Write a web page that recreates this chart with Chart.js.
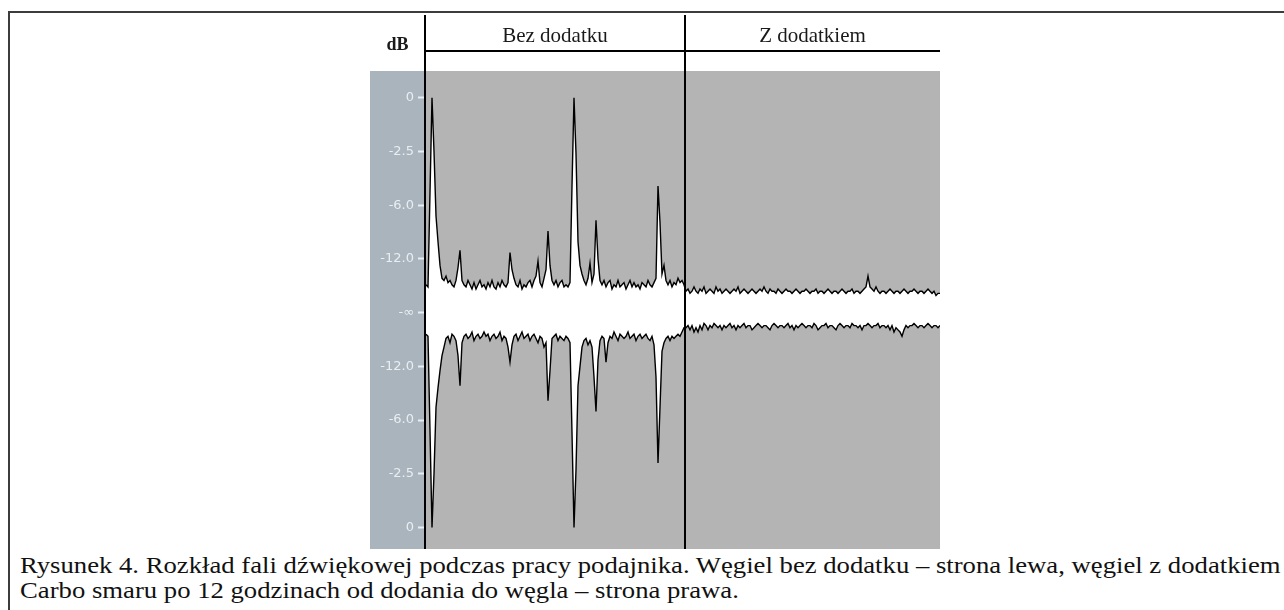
<!DOCTYPE html>
<html lang="pl">
<head>
<meta charset="utf-8">
<script src="https://cdn.jsdelivr.net/npm/chart.js@4"></script>
<style>
  html, body { margin: 0; padding: 0; background: #fff; width: 1284px; height: 610px; overflow: hidden; }
  #ramka { position: absolute; left: 8px; top: 11px; width: 1400px; height: 700px;
           border-top: 2px solid #3c3c3c; border-left: 2px solid #3c3c3c; }
  #wykres { position: absolute; left: 0; top: 0; }
  .podpis { position: absolute; left: 20px; font-family: "Liberation Serif", serif; white-space: nowrap;
            font-size: 26.7px; line-height: 30px; color: #111;
            transform: scaleY(0.85); transform-origin: 0 0; }
  #linia1 { top: 552.6px; }
  #linia2 { top: 577.6px; }
</style>
</head>
<body>
<div id="ramka"></div>
<canvas id="wykres" width="1284" height="550"></canvas>
<div class="podpis" id="linia1">Rysunek 4. Rozkład fali dźwiękowej podczas pracy podajnika. Węgiel bez dodatku – strona lewa, węgiel z dodatkiem</div>
<div class="podpis" id="linia2">Carbo smaru po 12 godzinach od dodania do węgla – strona prawa.</div>
<script>
// naglowki kolumn i os dB
const naglowki = ["Bez dodatku", "Z dodatkiem"];
const jednostka = "dB";
const pozycjeTickow = [-1, -0.75, -0.5, -0.25, 0, 0.25, 0.5, 0.75, 1];
const etykietyTickow = ["0", "-2.5", "-6.0", "-12.0", "-\u221e", "-12.0", "-6.0", "-2.5", "0"];

// obwiednia fali (amplituda w % pelnej skali) - wegiel bez dodatku
const gornaLewa = [
  13, 12, 56, 100, 75, 45, 33, 22, 16, 15,
  17, 14, 15, 13, 12, 15, 21, 29, 15, 13,
  12, 15, 13, 11, 14, 11, 13, 15, 12, 13,
  11, 14, 12, 15, 12, 11, 14, 12, 15, 13,
  12, 14, 28, 20, 16, 13, 12, 15, 11, 13,
  12, 14, 15, 12, 15, 17, 24, 14, 12, 16,
  20, 38, 22, 15, 13, 15, 12, 14, 15, 12,
  13, 12, 14, 59, 100, 74, 33, 22, 18, 15,
  13, 16, 23, 14, 18, 43, 25, 15, 13, 15,
  12, 14, 15, 11, 13, 12, 15, 12, 13, 14,
  11, 13, 15, 12, 14, 12, 13, 11, 14, 13,
  12, 15, 13, 12, 14, 16, 59, 42, 18, 22,
  15, 13, 15, 12, 14, 13, 16, 14, 15, 13
];
const dolnaLewa = [
  -10, -11, -55, -100, -75, -44, -35, -27, -20, -16,
  -12, -11, -14, -10, -11, -13, -20, -34, -14, -11,
  -10, -12, -11, -9, -13, -11, -10, -12, -11, -9,
  -11, -10, -13, -11, -10, -12, -11, -9, -13, -11,
  -12, -16, -23, -15, -11, -10, -13, -11, -9, -12,
  -11, -10, -13, -11, -10, -12, -14, -11, -12, -16,
  -14, -41, -27, -12, -11, -10, -13, -11, -12, -13,
  -11, -12, -14, -56, -100, -73, -34, -25, -16, -13,
  -12, -15, -13, -16, -30, -46, -22, -13, -11, -12,
  -23, -14, -11, -12, -9, -11, -13, -10, -11, -12,
  -11, -9, -12, -11, -10, -13, -11, -10, -12, -11,
  -10, -12, -13, -11, -15, -30, -70, -44, -18, -14,
  -12, -11, -13, -11, -12, -11, -10, -11, -9, -7
];

// wegiel z dodatkiem
const gornaPrawa = [
  10, 11, 9, 10, 12, 10, 9, 11, 10, 12,
  9, 10, 11, 10, 9, 12, 10, 11, 9, 10,
  11, 10, 9, 10, 11, 10, 12, 9, 10, 11,
  10, 9, 10, 11, 10, 9, 10, 11, 10, 12,
  10, 9, 11, 10, 10, 9, 11, 10, 9, 10,
  11, 10, 10, 9, 10, 11, 10, 9, 10, 10,
  11, 10, 9, 10, 10, 11, 9, 10, 10, 9,
  10, 11, 10, 9, 10, 10, 9, 10, 11, 10,
  9, 10, 10, 11, 9, 10, 10, 9, 10, 11,
  12, 17, 12, 11, 10, 12, 10, 9, 10, 10,
  9, 10, 11, 10, 9, 10, 10, 9, 10, 11,
  10, 9, 10, 10, 11, 10, 9, 10, 10, 9,
  10, 11, 10, 9, 10, 8, 9, 9
];
const dolnaPrawa = [
  -7, -6, -8, -6, -9, -7, -9, -6, -8, -5,
  -6, -8, -6, -7, -5, -6, -7, -6, -8, -6,
  -7, -6, -5, -7, -6, -8, -6, -7, -6, -5,
  -7, -6, -6, -8, -7, -6, -5, -6, -7, -6,
  -6, -7, -8, -6, -5, -6, -7, -6, -6, -7,
  -6, -5, -7, -6, -8, -6, -7, -6, -5, -6,
  -7, -6, -6, -7, -5, -6, -8, -7, -6, -6,
  -5, -7, -6, -6, -7, -8, -6, -5, -6, -7,
  -6, -6, -7, -5, -6, -6, -7, -6, -8, -6,
  -6, -5, -6, -7, -6, -6, -5, -7, -6, -6,
  -7, -6, -8, -6, -9, -7, -8, -9, -11, -8,
  -6, -7, -6, -6, -5, -6, -7, -6, -6, -7,
  -6, -5, -6, -7, -6, -6, -7, -6
];

const gora = gornaLewa.concat(gornaPrawa).map((v, i) => ({ x: i, y: v / 100 }));
const dol = dolnaLewa.concat(dolnaPrawa).map((v, i) => ({ x: i, y: v / 100 }));

// tlo, linie podzialu i naglowki
const tlo = {
  id: "tlo",
  beforeDraw(chart) {
    const { ctx, chartArea: a, scales: { y } } = chart;
    ctx.save();
    ctx.fillStyle = "#aab4bd";
    ctx.fillRect(y.left, a.top, a.left - y.left, a.bottom - a.top);
    ctx.fillStyle = "#b4b4b4";
    ctx.fillRect(a.left, a.top, a.right - a.left, a.bottom - a.top);
    ctx.restore();
  },
  afterDraw(chart) {
    const { ctx, chartArea: a, scales: { x, y } } = chart;
    const dzielnik = Math.round(x.getPixelForValue(gornaLewa.length - 0.5));
    ctx.save();
    ctx.strokeStyle = "#000";
    ctx.lineWidth = 2;
    ctx.beginPath();
    ctx.moveTo(a.left, 15); ctx.lineTo(a.left, a.bottom);
    ctx.moveTo(dzielnik, 15); ctx.lineTo(dzielnik, a.bottom);
    ctx.moveTo(a.left, 51); ctx.lineTo(a.right, 51);
    ctx.stroke();

    ctx.fillStyle = "#1a1a1a";
    ctx.textAlign = "center";
    ctx.textBaseline = "alphabetic";
    ctx.font = '21px "Liberation Serif"';
    ctx.fillText(naglowki[0], (a.left + dzielnik) / 2, 42);
    ctx.fillText(naglowki[1], (dzielnik + a.right) / 2, 42);
    ctx.font = 'bold 18px "Liberation Serif"';
    ctx.fillText(jednostka, (y.left + a.left) / 2, 50);
    ctx.restore();
  }
};

new Chart(document.getElementById("wykres"), {
  type: "line",
  data: {
    datasets: [
      { data: gora, borderColor: "#000", borderWidth: 1.4, pointRadius: 0, tension: 0,
        fill: { target: 1 }, backgroundColor: "#fff" },
      { data: dol, borderColor: "#000", borderWidth: 1.4, pointRadius: 0, tension: 0, fill: false }
    ]
  },
  options: {
    responsive: false,
    animation: false,
    devicePixelRatio: 1,
    layout: { padding: { left: 370, right: 344, top: 71, bottom: 1 } },
    plugins: {
      legend: { display: false },
      tooltip: { enabled: false },
      filler: { drawTime: "beforeDatasetsDraw" }
    },
    scales: {
      x: { type: "linear", display: false, min: -0.5, max: 257 },
      y: {
        min: -1.1, max: 1.125,
        afterFit: s => { s.width = 55; s.paddingTop = 0; s.paddingBottom = 0; },
        afterBuildTicks: s => { s.ticks = pozycjeTickow.map(v => ({ value: v })); },
        ticks: {
          callback: (v, i) => etykietyTickow[i],
          color: "#e8eef2",
          font: { family: "DejaVu Sans", size: 13 },
          padding: 4
        },
        grid: { drawOnChartArea: false, tickLength: 7, tickColor: "#e8eef2", tickWidth: 2 },
        border: { display: false }
      }
    }
  },
  plugins: [tlo]
});
</script>
</body>
</html>
